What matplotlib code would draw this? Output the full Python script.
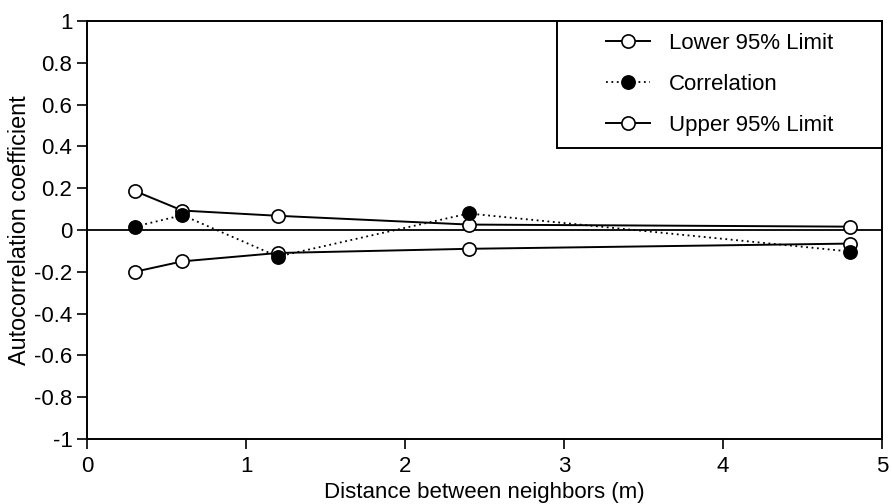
import numpy as np
import matplotlib
matplotlib.use("Agg")
import matplotlib.pyplot as plt
from matplotlib.patches import Rectangle

# %%
distance = [0.3, 0.6, 1.2, 2.4, 4.8]
lower_limit = [-0.20, -0.15, -0.11, -0.09, -0.065]
correlation = [0.016, 0.071, -0.127, 0.079, -0.103]
upper_limit = [0.187, 0.093, 0.068, 0.026, 0.016]

x_ticks = [0, 1, 2, 3, 4, 5]
y_ticks = [-1, -0.8, -0.6, -0.4, -0.2, 0, 0.2, 0.4, 0.6, 0.8, 1]
y_tick_labels = ["-1", "-0.8", "-0.6", "-0.4", "-0.2", "0", "0.2", "0.4", "0.6", "0.8", "1"]

# %%
plt.rcParams["font.family"] = ["Liberation Sans", "DejaVu Sans"]
fs = 16

fig = plt.figure(figsize=(8.92, 5.04), dpi=100)
ax = fig.add_axes([87 / 892, 1 - 439 / 504, 795 / 892, 418 / 504])

ax.axhline(0, color="black", lw=1.3, zorder=1)

ax.plot(distance, lower_limit, color="black", lw=1.4, marker="o", ms=9.5,
        mfc="white", mec="black", mew=1.2, label="Lower 95% Limit", zorder=3)
ax.plot(distance, correlation, color="black", lw=1.3, ls=(0, (1, 2)), marker="o", ms=9.5,
        mfc="black", mec="black", mew=1.2, label="Correlation", zorder=4)
ax.plot(distance, upper_limit, color="black", lw=1.4, marker="o", ms=9.5,
        mfc="white", mec="black", mew=1.2, label="Upper 95% Limit", zorder=3)

ax.set_xlim(0, 5)
ax.set_ylim(-1, 1)
ax.set_xticks(x_ticks)
ax.set_xticklabels([str(t) for t in x_ticks])
ax.set_yticks(y_ticks)
ax.set_yticklabels(y_tick_labels)
ax.tick_params(direction="out", length=7, width=1.2, labelsize=fs, pad=3.5)
ax.tick_params(axis="x", pad=5)

for sp in ax.spines.values():
    sp.set_linewidth(1.4)

ax.set_xlabel("Distance between neighbors (m)", fontsize=fs, labelpad=4)
ax.set_ylabel("Autocorrelation coefficient", fontsize=16.8, labelpad=2)

# legend box (square corners) with the entries centred in it
bx0, by0, bw, bh = 470 / 795, 1 - 127 / 418, 325 / 795, 127 / 418
ax.add_patch(Rectangle((bx0, by0), bw, bh, transform=ax.transAxes, facecolor="white",
                       edgecolor="black", lw=1.4, zorder=5, clip_on=False))
leg = ax.legend(loc="center", bbox_to_anchor=(bx0 + bw / 2, by0 + bh / 2), frameon=False,
                fontsize=fs, handlelength=2.0, handletextpad=0.85, labelspacing=0.9,
                borderpad=0)
leg.set_zorder(6)

fig.savefig("out.png", dpi=100)
